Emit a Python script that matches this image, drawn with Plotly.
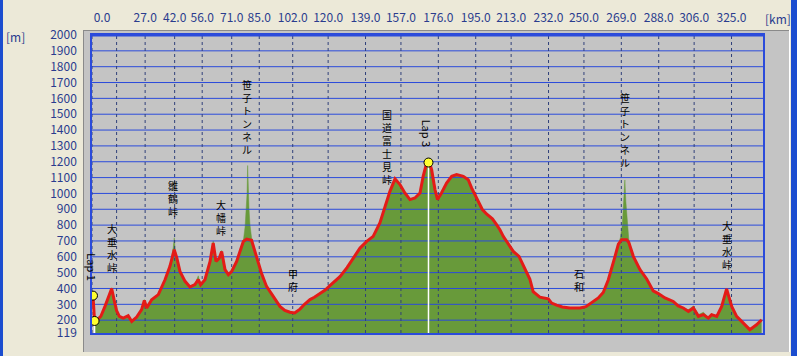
import plotly.graph_objects as go

# ---------------- data ----------------
route_km = [0.5, 1.3, 3.0, 4.5, 6.6, 8.5, 10.0, 11.2, 12.5, 13.9, 15.9, 18.4, 20.2, 22.7,
            25.2, 26.6, 27.8, 30.3, 33.7, 37.1, 39.6, 41.8, 43.1, 44.7, 47.3, 49.8, 52.3,
            54.0, 55.2, 57.4, 60.0, 61.6, 63.0, 64.7, 65.9, 67.6, 69.3, 71.0, 73.5, 76.9,
            78.6, 81.1, 83.6, 86.1, 88.7, 92.1, 95.5, 98.0, 100.6, 103.0, 105.7, 108.0,
            110.8, 113.0, 115.9, 118.5, 120.9, 124.0, 126.0, 129.6, 132.8, 136.2, 139.6,
            142.9, 146.3, 148.9, 151.4, 154.0, 156.5, 159.0, 161.6, 164.1, 166.7, 168.3,
            170.0, 171.2, 172.6, 174.3, 175.6, 177.6, 180.2, 182.8, 185.3, 188.7, 191.2,
            192.9, 195.4, 198.3, 200.5, 203.5, 205.6, 207.3, 209.0, 210.7, 212.5, 214.1,
            217.0, 220.0, 222.5, 224.2, 227.6, 231.9, 233.6, 236.1, 239.0, 242.9, 248.0,
            251.0, 254.7, 257.3, 259.8, 262.4, 265.8, 267.5, 269.2, 271.7, 272.8, 275.1,
            278.5, 281.9, 285.2, 287.8, 291.2, 293.7, 295.4, 297.9, 300.5, 303.1, 305.6,
            308.2, 310.7, 313.2, 314.9, 317.5, 320.0, 322.5, 325.1, 327.6, 331.0, 334.3,
            337.7, 340.3]
route_elev = [355, 195, 205, 225, 287, 350, 400, 330, 260, 224, 213, 228, 192, 220,
              266, 325, 277, 329, 361, 455, 540, 645, 593, 508, 445, 410, 424,
              456, 424, 455, 571, 687, 571, 592, 634, 519, 487, 508, 571, 697,
              712, 704, 603, 498, 413, 350, 287, 262, 250, 245, 270, 300,
              330, 345, 367, 390, 418, 450, 475, 532, 595, 655, 697,
              729, 814, 919, 1013, 1092, 1056, 1003, 961, 971, 1003, 1108,
              1190, 1205, 1150, 1024, 961, 1003, 1066, 1108, 1119, 1108, 1087,
              1035, 975, 900, 870, 840, 803, 771, 729, 697, 660, 634,
              603, 529, 460, 380, 345, 335, 308, 295, 283, 277, 277,
              285, 318, 340, 375, 455, 603, 680, 708, 708, 690, 603,
              519, 460, 385, 368, 340, 329, 318, 290, 277, 255, 277,
              224, 235, 213, 235, 224, 287, 397, 287, 224, 182, 140,
              171, 203]

terrain_km = [1.3, 3.0, 4.5, 6.6, 8.5, 10.0, 11.2, 12.5, 13.9, 15.9, 18.4, 20.2, 22.7,
              25.2, 26.6, 27.8, 30.3, 33.7, 37.1, 39.6, 41.3, 41.8, 42.3, 43.1, 44.7,
              47.3, 49.8, 52.3, 54.0, 55.2, 57.4, 60.0, 61.6, 63.0, 64.7, 65.9, 67.6,
              69.3, 71.0, 73.5, 76.9, 77.8, 78.3, 78.8, 79.1, 79.4, 79.8, 80.3, 81.1,
              83.6, 86.1, 88.7, 92.1, 95.5, 98.0, 100.6, 103.0, 105.7, 108.0, 110.8,
              113.0, 115.9, 118.5, 120.9, 124.0, 126.0, 129.6, 132.8, 136.2, 139.6,
              142.9, 146.3, 148.9, 151.4, 154.0, 156.5, 159.0, 161.6, 164.1, 166.7,
              168.3, 170.0, 171.2, 172.6, 174.3, 175.6, 177.6, 180.2, 182.8, 185.3,
              188.7, 191.2, 192.9, 195.4, 198.3, 200.5, 203.5, 205.6, 207.3, 209.0,
              210.7, 212.5, 214.1, 217.0, 220.0, 222.5, 224.2, 227.6, 231.9, 233.6,
              236.1, 239.0, 242.9, 248.0, 251.0, 254.7, 257.3, 259.8, 262.4, 265.8,
              267.5, 268.5, 269.5, 270.2, 270.8, 271.3, 272.0, 272.8, 275.1, 278.5,
              281.9, 285.2, 287.8, 291.2, 293.7, 295.4, 297.9, 300.5, 303.1, 305.6,
              308.2, 310.7, 313.2, 314.9, 317.5, 320.0, 322.5, 325.1, 327.6, 331.0,
              334.3, 337.7, 340.3]
terrain_elev = [195, 205, 225, 287, 350, 405, 330, 260, 224, 213, 228, 192, 220,
                266, 330, 277, 329, 361, 455, 540, 660, 720, 640, 593, 508,
                445, 410, 424, 480, 424, 455, 571, 700, 571, 600, 640, 519,
                487, 508, 571, 700, 790, 880, 1000, 1176, 1020, 900, 800, 720,
                603, 498, 413, 350, 287, 262, 250, 245, 270, 300, 330,
                345, 367, 390, 418, 450, 475, 532, 595, 655, 697,
                729, 814, 919, 1013, 1092, 1056, 1003, 961, 971, 1003,
                1108, 1190, 1205, 1150, 1024, 961, 1003, 1066, 1108, 1119,
                1108, 1087, 1035, 975, 900, 870, 840, 803, 771, 729,
                697, 660, 634, 603, 529, 460, 380, 345, 335, 308,
                295, 283, 277, 277, 285, 318, 340, 375, 455, 603,
                680, 720, 800, 950, 1085, 950, 800, 710, 603, 519,
                460, 385, 368, 340, 329, 318, 290, 277, 265, 290,
                235, 250, 220, 240, 228, 290, 400, 287, 224, 182,
                140, 171, 203]

x_tick_vals = [0, 27, 42, 56, 71, 85, 102, 120, 139, 157, 176, 195, 213, 232,
               250, 269, 288, 306, 325]
x_grid_vals = [0, 12.5, 27, 42, 56, 71, 85, 102, 120, 139, 157, 176, 195, 213, 232,
               250, 269, 288, 306, 325]
y_tick_vals = [119, 200, 300, 400, 500, 600, 700, 800, 900, 1000, 1100, 1200, 1300,
               1400, 1500, 1600, 1700, 1800, 1900, 2000]

lap_names = ["Lap 1", "Lap 3"]
lap_km = [1.3, 171.0]
lap_elev = [195, 1195]
start_km = [0.5]
start_elev = [355]

place_names = ["大垂水峠", "雛鶴峠", "大幡峠", "笹子トンネル", "甲府",
               "国道富士見峠", "石和", "笹子トンネル", "大垂水峠"]
place_km = [10.2, 41.2, 65.5, 78.8, 102.1, 149.9, 247.5, 270.8, 322.7]

# ---------------- layout constants ----------------
W, H = 797, 356
L, R, T, B = 92, 34, 35, 23
PW, PH = W - L - R, H - T - B
X_MAX = 341.0
Y_MIN, Y_MAX = 119, 2000

BEIGE = "#ECE9D8"
FRAME = "#C4C4C4"
PLOTBG = "#DBDBDB"
GRID = "#2B4BDB"
NAVY = "#2A3C8E"
GREEN = "#689A3A"
RED = "#E41B17"
FONT = "Noto Sans CJK JP"


def px(x):
    return (x - L) / PW


def py(y):
    return (H - B - y) / PH


fig = go.Figure()

# terrain fill
fig.add_trace(go.Scatter(x=terrain_km, y=terrain_elev, mode="lines",
                         line=dict(color=GREEN, width=0.5), fill="tozeroy",
                         fillcolor=GREEN, hoverinfo="skip"))

# horizontal grid lines (drawn above fill)
gx, gy = [], []
for v in y_tick_vals[1:-1]:
    gx += [0, X_MAX, None]
    gy += [v, v, None]
fig.add_trace(go.Scatter(x=gx, y=gy, mode="lines", line=dict(color=GRID, width=1),
                         hoverinfo="skip"))
# vertical dotted grid lines
vx, vy = [], []
for v in x_grid_vals:
    vx += [v, v, None]
    vy += [Y_MIN, Y_MAX, None]
fig.add_trace(go.Scatter(x=vx, y=vy, mode="lines",
                         line=dict(color="#30407A", width=1, dash="dot"),
                         hoverinfo="skip"))

# white lap lines
for k, e in zip(lap_km, lap_elev):
    fig.add_trace(go.Scatter(x=[k, k], y=[Y_MIN, e], mode="lines",
                             line=dict(color="white", width=1.5), hoverinfo="skip"))

# route line
fig.add_trace(go.Scatter(x=route_km, y=route_elev, mode="lines",
                         line=dict(color=RED, width=3), hoverinfo="skip"))

# markers
fig.add_trace(go.Scatter(x=start_km + lap_km, y=start_elev + lap_elev, mode="markers",
                         marker=dict(color="#FFFF30", size=9,
                                     line=dict(color="black", width=1)),
                         hoverinfo="skip"))

shapes = [
    # window blue borders
    dict(type="rect", xref="paper", yref="paper", x0=px(0), x1=px(3), y0=py(H), y1=py(0),
         fillcolor="#1B4DCF", line=dict(width=0), layer="below"),
    dict(type="rect", xref="paper", yref="paper", x0=px(791), x1=px(W), y0=py(H), y1=py(0),
         fillcolor="#1B4DCF", line=dict(width=0), layer="below"),
    # gray frame
    dict(type="rect", xref="paper", yref="paper", x0=px(83), x1=px(789), y0=py(352), y1=py(30),
         fillcolor=FRAME, line=dict(width=0), layer="below"),
    dict(type="line", xref="paper", yref="paper", x0=px(83), x1=px(789), y0=py(30.5), y1=py(30.5),
         line=dict(color="#8A8A8A", width=1), layer="below"),
    dict(type="line", xref="paper", yref="paper", x0=px(83.5), x1=px(83.5), y0=py(352), y1=py(30),
         line=dict(color="#8A8A8A", width=1), layer="below"),
    dict(type="line", xref="paper", yref="paper", x0=px(789.5), x1=px(789.5), y0=py(352), y1=py(30),
         line=dict(color="white", width=1), layer="below"),
    # top border thicker
    dict(type="line", xref="paper", yref="paper", x0=0, x1=1, y0=1, y1=1,
         line=dict(color=GRID, width=3)),
]

annotations = []
label_elev = [658, 967, 847, 1485, 455, 1296, 455, 1403, 676]
for name, k, e in zip(place_names, place_km, label_elev):
    annotations.append(dict(x=k, y=e, xref="x", yref="y", text="<br>".join(name),
                            showarrow=False, font=dict(family=FONT, size=10, color="black"),
                            xanchor="center", yanchor="middle"))
lap_label_pos = [(0.2, 531), (170.7, 1378)]
for name, (k, e) in zip(lap_names, lap_label_pos):
    annotations.append(dict(x=k, y=e, xref="x", yref="y", text=name, textangle=90,
                            showarrow=False, font=dict(family=FONT, size=11, color="black"),
                            xanchor="center", yanchor="middle"))
annotations.append(dict(x=px(15), y=py(36), xref="paper", yref="paper", text="[m]",
                        showarrow=False, xanchor="center", yanchor="middle",
                        font=dict(family=FONT, size=12, color=NAVY)))
annotations.append(dict(x=px(778), y=py(18), xref="paper", yref="paper", text="[km]",
                        showarrow=False, xanchor="center", yanchor="middle",
                        font=dict(family=FONT, size=12, color=NAVY)))

x_tick_text = ["%.1f" % v for v in x_tick_vals]
x_tick_text[0] = "\u2007\u2007\u2007" + x_tick_text[0]

fig.update_layout(
    template="none",
    width=W, height=H,
    margin=dict(l=L, r=R, t=T, b=B, pad=0),
    paper_bgcolor=BEIGE, plot_bgcolor=PLOTBG,
    showlegend=False,
    shapes=shapes, annotations=annotations,
    xaxis=dict(range=[0, X_MAX], side="top", tickvals=x_tick_vals, ticktext=x_tick_text,
               showgrid=False, zeroline=False, ticks="", ticklabelstandoff=6,
               showline=True, mirror=True, linecolor=GRID, linewidth=1.5,
               tickfont=dict(family=FONT, size=12, color=NAVY), automargin=False,
               fixedrange=True),
    yaxis=dict(range=[Y_MIN, Y_MAX], tickvals=y_tick_vals,
               ticktext=[str(v) for v in y_tick_vals],
               showgrid=False, zeroline=False, ticks="", ticklabelstandoff=11,
               showline=True, mirror=True, linecolor=GRID, linewidth=1.5,
               tickfont=dict(family=FONT, size=12, color=NAVY), automargin=False,
               fixedrange=True),
)

fig.write_html("out.html", config={"displayModeBar": False})
